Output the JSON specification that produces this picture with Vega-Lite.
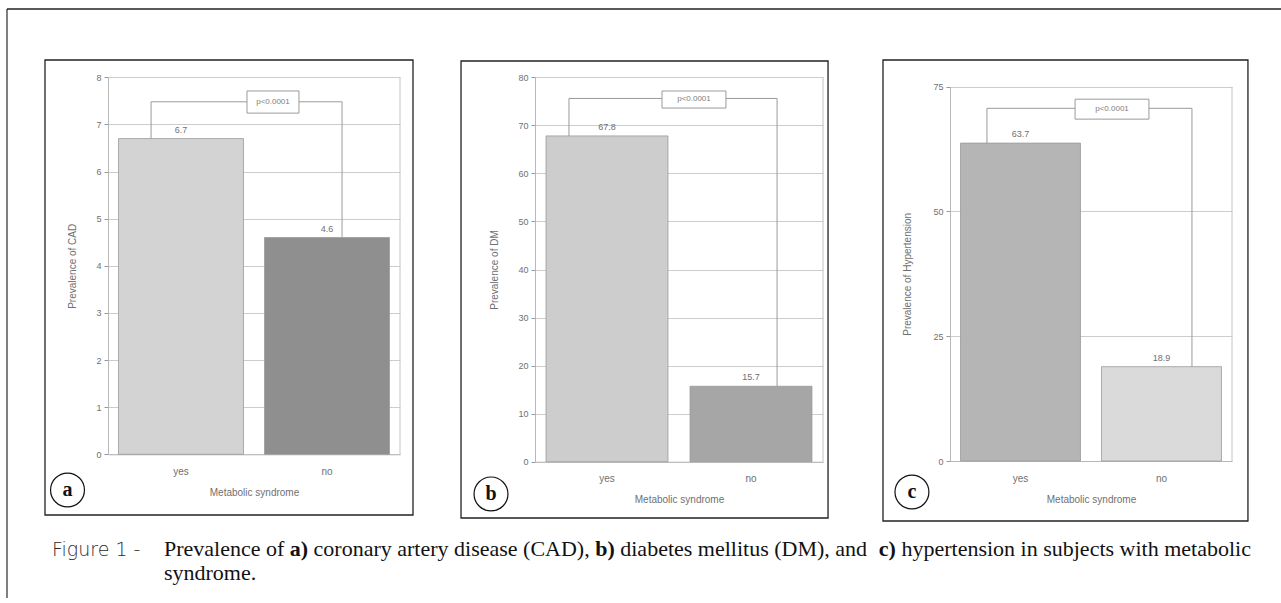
{
  "$schema": "https://vega.github.io/schema/vega-lite/v6.json",
  "width": 1281,
  "height": 603,
  "autosize": {"type": "none"},
  "padding": 0,
  "background": "white",
  "config": {
    "view": {"stroke": null},
    "axis": {"labelFont": "Liberation Sans", "titleFont": "Liberation Sans"}
  },
  "resolve": {
    "scale": {"x": "independent", "y": "independent", "fill": "independent"},
    "axis": {"x": "independent", "y": "independent"}
  },
  "layer": [
    {
      "data": {"values": [{"syndrome": "yes", "prevalence": 6.7}, {"syndrome": "no", "prevalence": 4.6}]},
      "layer": [
        {
          "mark": {"type": "bar", "width": {"band": 0.856}, "stroke": "#9a9a9a", "strokeWidth": 0.8},
          "encoding": {
            "x": {"field": "syndrome", "type": "nominal",
              "scale": {"type": "band", "domain": ["yes", "no"], "range": [108, 400], "paddingInner": 0, "paddingOuter": 0},
              "axis": {"orient": "bottom", "offset": -148.7, "title": "Metabolic syndrome", "labelAngle": 0, "ticks": false, "domainColor": "#b8b8b8", "labelColor": "#707070", "labelFontSize": 10, "labelPadding": 12, "titleColor": "#707070", "titleFontSize": 10, "titleFontWeight": "normal", "titlePadding": 11, "grid": false}},
            "y": {"field": "prevalence", "type": "quantitative",
              "scale": {"domain": [0, 8], "range": [454.3, 77.3], "nice": false},
              "axis": {"orient": "left", "offset": -108, "values": [0, 1, 2, 3, 4, 5, 6, 7, 8], "format": "d", "title": "Prevalence of CAD", "grid": true, "gridColor": "#cccccc", "domainColor": "#b8b8b8", "tickColor": "#999999", "tickSize": 4, "labelColor": "#707070", "labelFontSize": 9, "labelPadding": 3, "titleColor": "#707070", "titleFontSize": 10, "titleFontWeight": "normal", "titlePadding": 18}},
            "fill": {"field": "syndrome", "type": "nominal", "scale": {"domain": ["yes", "no"], "range": ["#d3d3d3", "#8f8f8f"]}, "legend": null}
          }
        },
        {
          "mark": {"type": "text", "baseline": "bottom", "dy": -4, "fontSize": 9, "fill": "#707070"},
          "encoding": {
            "x": {"field": "syndrome", "type": "nominal"},
            "y": {"field": "prevalence", "type": "quantitative"},
            "text": {"field": "prevalence", "type": "quantitative", "format": ".1f"}
          }
        },
        {
          "transform": [{"filter": "datum.syndrome === 'yes'"}],
          "mark": {"type": "rule", "color": "#9a9a9a"},
          "encoding": {
            "x": {"field": "syndrome", "type": "nominal", "bandPosition": 0.295},
            "y": {"field": "prevalence", "type": "quantitative"},
            "y2": {"datum": 7.48}
          }
        },
        {
          "transform": [{"filter": "datum.syndrome === 'no'"}],
          "mark": {"type": "rule", "color": "#9a9a9a"},
          "encoding": {
            "x": {"field": "syndrome", "type": "nominal", "bandPosition": 0.603},
            "y": {"field": "prevalence", "type": "quantitative"},
            "y2": {"datum": 7.48}
          }
        },
        {
          "data": {"values": [{}]},
          "mark": {"type": "rule", "color": "#9a9a9a"},
          "encoding": {
            "x": {"datum": "yes", "type": "nominal", "bandPosition": 0.295},
            "x2": {"datum": "no", "bandPosition": 0.603},
            "y": {"datum": 7.48, "type": "quantitative"}
          }
        },
        {
          "data": {"values": [{}]},
          "mark": {"type": "rule", "color": "#c4c4c4"},
          "encoding": {
            "x": {"datum": "no", "type": "nominal", "bandPosition": 1},
            "y": {"datum": 0, "type": "quantitative"},
            "y2": {"datum": 8}
          }
        },
        {
          "data": {"values": [{}]},
          "mark": {"type": "rect", "fill": "white", "stroke": "#9a9a9a", "strokeWidth": 1},
          "encoding": {
            "x": {"datum": "yes", "type": "nominal", "bandPosition": 0.952},
            "x2": {"datum": "no", "bandPosition": 0.308},
            "y": {"datum": 7.71, "type": "quantitative"},
            "y2": {"datum": 7.24}
          }
        },
        {
          "data": {"values": [{}]},
          "mark": {"type": "text", "fontSize": 8, "fill": "#808080", "baseline": "middle", "align": "center"},
          "encoding": {
            "x": {"datum": "no", "type": "nominal", "bandPosition": 0.13},
            "y": {"datum": 7.48, "type": "quantitative"},
            "text": {"value": "p<0.0001"}
          }
        }
      ]
    },
    {
      "data": {"values": [{"syndrome": "yes", "prevalence": 67.8}, {"syndrome": "no", "prevalence": 15.7}]},
      "layer": [
        {
          "mark": {"type": "bar", "width": {"band": 0.847}, "stroke": "#9a9a9a", "strokeWidth": 0.8},
          "encoding": {
            "x": {"field": "syndrome", "type": "nominal",
              "scale": {"type": "band", "domain": ["yes", "no"], "range": [535, 823], "paddingInner": 0, "paddingOuter": 0},
              "axis": {"orient": "bottom", "offset": -141.3, "title": "Metabolic syndrome", "labelAngle": 0, "ticks": false, "domainColor": "#b8b8b8", "labelColor": "#707070", "labelFontSize": 10, "labelPadding": 12, "titleColor": "#707070", "titleFontSize": 10, "titleFontWeight": "normal", "titlePadding": 11, "grid": false}},
            "y": {"field": "prevalence", "type": "quantitative",
              "scale": {"domain": [0, 80], "range": [461.7, 77.3], "nice": false},
              "axis": {"orient": "left", "offset": -535, "values": [0, 10, 20, 30, 40, 50, 60, 70, 80], "format": "d", "title": "Prevalence of DM", "grid": true, "gridColor": "#cccccc", "domainColor": "#b8b8b8", "tickColor": "#999999", "tickSize": 4, "labelColor": "#707070", "labelFontSize": 9, "labelPadding": 3, "titleColor": "#707070", "titleFontSize": 10, "titleFontWeight": "normal", "titlePadding": 18}},
            "fill": {"field": "syndrome", "type": "nominal", "scale": {"domain": ["yes", "no"], "range": ["#cdcdcd", "#a6a6a6"]}, "legend": null}
          }
        },
        {
          "mark": {"type": "text", "baseline": "bottom", "dy": -4, "fontSize": 9, "fill": "#707070"},
          "encoding": {
            "x": {"field": "syndrome", "type": "nominal"},
            "y": {"field": "prevalence", "type": "quantitative"},
            "text": {"field": "prevalence", "type": "quantitative", "format": ".1f"}
          }
        },
        {
          "transform": [{"filter": "datum.syndrome === 'yes'"}],
          "mark": {"type": "rule", "color": "#9a9a9a"},
          "encoding": {
            "x": {"field": "syndrome", "type": "nominal", "bandPosition": 0.236},
            "y": {"field": "prevalence", "type": "quantitative"},
            "y2": {"datum": 75.6}
          }
        },
        {
          "transform": [{"filter": "datum.syndrome === 'no'"}],
          "mark": {"type": "rule", "color": "#9a9a9a"},
          "encoding": {
            "x": {"field": "syndrome", "type": "nominal", "bandPosition": 0.681},
            "y": {"field": "prevalence", "type": "quantitative"},
            "y2": {"datum": 75.6}
          }
        },
        {
          "data": {"values": [{}]},
          "mark": {"type": "rule", "color": "#9a9a9a"},
          "encoding": {
            "x": {"datum": "yes", "type": "nominal", "bandPosition": 0.236},
            "x2": {"datum": "no", "bandPosition": 0.681},
            "y": {"datum": 75.6, "type": "quantitative"}
          }
        },
        {
          "data": {"values": [{}]},
          "mark": {"type": "rule", "color": "#c4c4c4"},
          "encoding": {
            "x": {"datum": "no", "type": "nominal", "bandPosition": 1},
            "y": {"datum": 0, "type": "quantitative"},
            "y2": {"datum": 80}
          }
        },
        {
          "data": {"values": [{}]},
          "mark": {"type": "rect", "fill": "white", "stroke": "#9a9a9a", "strokeWidth": 1},
          "encoding": {
            "x": {"datum": "yes", "type": "nominal", "bandPosition": 0.882},
            "x2": {"datum": "no", "bandPosition": 0.326},
            "y": {"datum": 77.15, "type": "quantitative"},
            "y2": {"datum": 73.6}
          }
        },
        {
          "data": {"values": [{}]},
          "mark": {"type": "text", "fontSize": 8, "fill": "#808080", "baseline": "middle", "align": "center"},
          "encoding": {
            "x": {"datum": "no", "type": "nominal", "bandPosition": 0.104},
            "y": {"datum": 75.4, "type": "quantitative"},
            "text": {"value": "p<0.0001"}
          }
        }
      ]
    },
    {
      "data": {"values": [{"syndrome": "yes", "prevalence": 63.7}, {"syndrome": "no", "prevalence": 18.9}]},
      "layer": [
        {
          "mark": {"type": "bar", "width": {"band": 0.851}, "stroke": "#9a9a9a", "strokeWidth": 0.8},
          "encoding": {
            "x": {"field": "syndrome", "type": "nominal",
              "scale": {"type": "band", "domain": ["yes", "no"], "range": [950, 1232], "paddingInner": 0, "paddingOuter": 0},
              "axis": {"orient": "bottom", "offset": -142, "title": "Metabolic syndrome", "labelAngle": 0, "ticks": false, "domainColor": "#b8b8b8", "labelColor": "#707070", "labelFontSize": 10, "labelPadding": 12, "titleColor": "#707070", "titleFontSize": 10, "titleFontWeight": "normal", "titlePadding": 11, "grid": false}},
            "y": {"field": "prevalence", "type": "quantitative",
              "scale": {"domain": [0, 75], "range": [461, 86.7], "nice": false},
              "axis": {"orient": "left", "offset": -950, "values": [0, 25, 50, 75], "format": "d", "title": "Prevalence of Hypertension", "grid": true, "gridColor": "#cccccc", "domainColor": "#b8b8b8", "tickColor": "#999999", "tickSize": 4, "labelColor": "#707070", "labelFontSize": 9, "labelPadding": 3, "titleColor": "#707070", "titleFontSize": 10, "titleFontWeight": "normal", "titlePadding": 20}},
            "fill": {"field": "syndrome", "type": "nominal", "scale": {"domain": ["yes", "no"], "range": ["#b5b5b5", "#dadada"]}, "legend": null}
          }
        },
        {
          "mark": {"type": "text", "baseline": "bottom", "dy": -4, "fontSize": 9, "fill": "#707070"},
          "encoding": {
            "x": {"field": "syndrome", "type": "nominal"},
            "y": {"field": "prevalence", "type": "quantitative"},
            "text": {"field": "prevalence", "type": "quantitative", "format": ".1f"}
          }
        },
        {
          "transform": [{"filter": "datum.syndrome === 'yes'"}],
          "mark": {"type": "rule", "color": "#9a9a9a"},
          "encoding": {
            "x": {"field": "syndrome", "type": "nominal", "bandPosition": 0.262},
            "y": {"field": "prevalence", "type": "quantitative"},
            "y2": {"datum": 70.67}
          }
        },
        {
          "transform": [{"filter": "datum.syndrome === 'no'"}],
          "mark": {"type": "rule", "color": "#9a9a9a"},
          "encoding": {
            "x": {"field": "syndrome", "type": "nominal", "bandPosition": 0.716},
            "y": {"field": "prevalence", "type": "quantitative"},
            "y2": {"datum": 70.67}
          }
        },
        {
          "data": {"values": [{}]},
          "mark": {"type": "rule", "color": "#9a9a9a"},
          "encoding": {
            "x": {"datum": "yes", "type": "nominal", "bandPosition": 0.262},
            "x2": {"datum": "no", "bandPosition": 0.716},
            "y": {"datum": 70.67, "type": "quantitative"}
          }
        },
        {
          "data": {"values": [{}]},
          "mark": {"type": "rule", "color": "#c4c4c4"},
          "encoding": {
            "x": {"datum": "no", "type": "nominal", "bandPosition": 1},
            "y": {"datum": 0, "type": "quantitative"},
            "y2": {"datum": 75}
          }
        },
        {
          "data": {"values": [{}]},
          "mark": {"type": "rect", "fill": "white", "stroke": "#9a9a9a", "strokeWidth": 1},
          "encoding": {
            "x": {"datum": "yes", "type": "nominal", "bandPosition": 0.887},
            "x2": {"datum": "no", "bandPosition": 0.411},
            "y": {"datum": 72.5, "type": "quantitative"},
            "y2": {"datum": 68.5}
          }
        },
        {
          "data": {"values": [{}]},
          "mark": {"type": "text", "fontSize": 8, "fill": "#808080", "baseline": "middle", "align": "center"},
          "encoding": {
            "x": {"datum": "no", "type": "nominal", "bandPosition": 0.149},
            "y": {"datum": 70.5, "type": "quantitative"},
            "text": {"value": "p<0.0001"}
          }
        }
      ]
    },
    {
      "data": {"values": [{}]},
      "layer": [
        {
          "mark": {"type": "rule", "color": "#555555", "strokeWidth": 1.5},
          "encoding": {
            "x": {"datum": 0.546, "type": "quantitative", "scale": {"domain": [0, 100], "nice": false, "zero": false}, "axis": null},
            "y": {"datum": 1.493, "type": "quantitative", "scale": {"domain": [0, 100], "nice": false, "zero": false, "reverse": true}, "axis": null},
            "y2": {"datum": 99.17}
          }
        },
        {
          "mark": {"type": "rule", "color": "#222222", "strokeWidth": 1.5},
          "encoding": {
            "x": {"datum": 0.546, "type": "quantitative"},
            "x2": {"datum": 100},
            "y": {"datum": 1.493, "type": "quantitative"}
          }
        },
        {
          "mark": {"type": "rect", "fillOpacity": 0, "stroke": "#222222", "strokeWidth": 1.3},
          "encoding": {
            "x": {"datum": 3.513, "type": "quantitative"}, "x2": {"datum": 32.24},
            "y": {"datum": 9.95, "type": "quantitative"}, "y2": {"datum": 85.41}
          }
        },
        {
          "mark": {"type": "rect", "fillOpacity": 0, "stroke": "#222222", "strokeWidth": 1.3},
          "encoding": {
            "x": {"datum": 35.99, "type": "quantitative"}, "x2": {"datum": 64.64},
            "y": {"datum": 10.12, "type": "quantitative"}, "y2": {"datum": 85.9}
          }
        },
        {
          "mark": {"type": "rect", "fillOpacity": 0, "stroke": "#222222", "strokeWidth": 1.3},
          "encoding": {
            "x": {"datum": 68.93, "type": "quantitative"}, "x2": {"datum": 97.42},
            "y": {"datum": 9.95, "type": "quantitative"}, "y2": {"datum": 86.4}
          }
        },
        {
          "mark": {"type": "point", "shape": "circle", "size": 1150, "filled": false, "stroke": "#111111", "strokeWidth": 1.2, "opacity": 1},
          "encoding": {"x": {"datum": 5.27, "type": "quantitative"}, "y": {"datum": 81.26, "type": "quantitative"}}
        },
        {
          "mark": {"type": "point", "shape": "circle", "size": 1150, "filled": false, "stroke": "#111111", "strokeWidth": 1.2, "opacity": 1},
          "encoding": {"x": {"datum": 38.33, "type": "quantitative"}, "y": {"datum": 81.92, "type": "quantitative"}}
        },
        {
          "mark": {"type": "point", "shape": "circle", "size": 1150, "filled": false, "stroke": "#111111", "strokeWidth": 1.2, "opacity": 1},
          "encoding": {"x": {"datum": 71.19, "type": "quantitative"}, "y": {"datum": 81.59, "type": "quantitative"}}
        },
        {
          "mark": {"type": "text", "font": "Liberation Serif", "fontWeight": "bold", "fontSize": 20, "fill": "#111111", "align": "center", "baseline": "middle"},
          "encoding": {"x": {"datum": 5.27, "type": "quantitative"}, "y": {"datum": 81.26, "type": "quantitative"}, "text": {"value": "a"}}
        },
        {
          "mark": {"type": "text", "font": "Liberation Serif", "fontWeight": "bold", "fontSize": 20, "fill": "#111111", "align": "center", "baseline": "middle"},
          "encoding": {"x": {"datum": 38.33, "type": "quantitative"}, "y": {"datum": 81.92, "type": "quantitative"}, "text": {"value": "b"}}
        },
        {
          "mark": {"type": "text", "font": "Liberation Serif", "fontWeight": "bold", "fontSize": 20, "fill": "#111111", "align": "center", "baseline": "middle"},
          "encoding": {"x": {"datum": 71.19, "type": "quantitative"}, "y": {"datum": 81.59, "type": "quantitative"}, "text": {"value": "c"}}
        },
        {
          "mark": {"type": "text", "font": "DejaVu Sans", "fontWeight": 300, "fontSize": 19, "fill": "#2a2a2a", "align": "left", "baseline": "alphabetic"},
          "encoding": {"x": {"datum": 4.06, "type": "quantitative"}, "y": {"datum": 92.21, "type": "quantitative"}, "text": {"value": "Figure 1 -"}}
        },
        {
          "mark": {"type": "text", "font": "Liberation Serif", "fontSize": 22, "fill": "#111111", "align": "left", "baseline": "alphabetic"},
          "encoding": {"x": {"datum": 12.8, "type": "quantitative"}, "y": {"datum": 92.21, "type": "quantitative"}, "text": {"value": "Prevalence of"}}
        },
        {
          "mark": {"type": "text", "font": "Liberation Serif", "fontWeight": "bold", "fontSize": 22, "fill": "#111111", "align": "left", "baseline": "alphabetic"},
          "encoding": {"x": {"datum": 22.62, "type": "quantitative"}, "y": {"datum": 92.21, "type": "quantitative"}, "text": {"value": "a)"}}
        },
        {
          "mark": {"type": "text", "font": "Liberation Serif", "fontSize": 22, "fill": "#111111", "align": "left", "baseline": "alphabetic"},
          "encoding": {"x": {"datum": 24.48, "type": "quantitative"}, "y": {"datum": 92.21, "type": "quantitative"}, "text": {"value": "coronary artery disease (CAD),"}}
        },
        {
          "mark": {"type": "text", "font": "Liberation Serif", "fontWeight": "bold", "fontSize": 22, "fill": "#111111", "align": "left", "baseline": "alphabetic"},
          "encoding": {"x": {"datum": 46.46, "type": "quantitative"}, "y": {"datum": 92.21, "type": "quantitative"}, "text": {"value": "b)"}}
        },
        {
          "mark": {"type": "text", "font": "Liberation Serif", "fontSize": 22, "fill": "#111111", "align": "left", "baseline": "alphabetic"},
          "encoding": {"x": {"datum": 48.42, "type": "quantitative"}, "y": {"datum": 92.21, "type": "quantitative"}, "text": {"value": "diabetes mellitus (DM), and"}}
        },
        {
          "mark": {"type": "text", "font": "Liberation Serif", "fontWeight": "bold", "fontSize": 22, "fill": "#111111", "align": "left", "baseline": "alphabetic"},
          "encoding": {"x": {"datum": 68.6, "type": "quantitative"}, "y": {"datum": 92.21, "type": "quantitative"}, "text": {"value": "c)"}}
        },
        {
          "mark": {"type": "text", "font": "Liberation Serif", "fontSize": 22, "fill": "#111111", "align": "left", "baseline": "alphabetic"},
          "encoding": {"x": {"datum": 70.37, "type": "quantitative"}, "y": {"datum": 92.21, "type": "quantitative"}, "text": {"value": "hypertension in subjects with metabolic"}}
        },
        {
          "mark": {"type": "text", "font": "Liberation Serif", "fontSize": 22, "fill": "#111111", "align": "left", "baseline": "alphabetic"},
          "encoding": {"x": {"datum": 12.8, "type": "quantitative"}, "y": {"datum": 96.19, "type": "quantitative"}, "text": {"value": "syndrome."}}
        }
      ]
    }
  ]
}
